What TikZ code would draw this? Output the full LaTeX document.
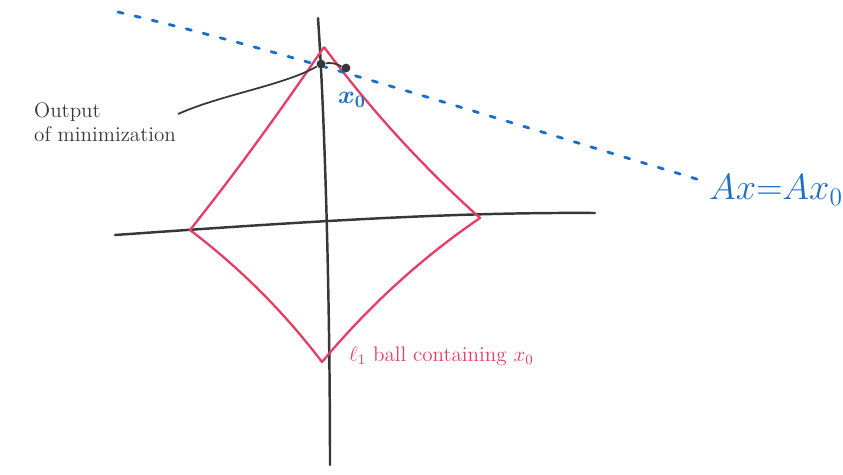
\documentclass[tikz,border=0pt]{standalone}
\usepackage{amsmath, amssymb}
\usetikzlibrary{calc}
\definecolor{ballred}{RGB}{232,60,100}
\definecolor{penblue}{RGB}{25,110,200}
\definecolor{pengray}{RGB}{55,55,55}
\tikzset{
  axis/.style={pengray, line width=1.4pt, line cap=round},
  ball/.style={ballred, line width=1.3pt, line join=round},
  hyper/.style={penblue, line width=1.6pt, dash pattern=on 3pt off 7pt, line cap=round},
  pt/.style={circle, fill=pengray, inner sep=0pt, minimum size=5pt}
}
\begin{document}
\begin{tikzpicture}[x=0.02cm, y=-0.02cm]
  \useasboundingbox (0,0) rectangle (843,474);
  % axes
  \draw[axis] (115,235) .. controls (300,222) and (450,212) .. (595,213);
  \draw[axis] (318,18) .. controls (325,120) and (330,300) .. (330,465);
  % l1 ball
  \coordinate (top) at (324,47);
  \coordinate (right) at (480,218);
  \coordinate (bottom) at (322,362);
  \coordinate (left) at (190,230);
  \draw[ball] (top) .. controls (370,109) and (422,166) .. (right)
    .. controls (420,259) and (368,307) .. (bottom)
    .. controls (284,312) and (240,268) .. (left)
    .. controls (237,171) and (281,110) .. (top);
  % constraint set
  \coordinate (hstart) at (118,12);
  \coordinate (hend) at (700,180);
  \draw[hyper] (hstart) .. controls (300,55) and (500,120) .. (hend);
  \node[pt] (xhat) at (321,64) {};
  \node[pt] (xzero) at (346,68) {};
  \draw[pengray, line width=1pt] (xhat) .. controls (335,62) and (340,66) .. (xzero);
  % labels
  \node[penblue, font=\Large\bfseries] (xlab) at (352,100) {$\boldsymbol{x_0}$};
  \node[penblue, font=\huge] (eq) at (776,190) {$Ax{=}Ax_0$};
  \node[pengray, align=left, font=\large, anchor=west] (out) at (28,122) {Output\\of minimization};
  \draw[pengray, line width=1pt] (out.east) ++(-4,-8) coordinate (tail)
    .. controls (220,95) and (285,85) .. (xhat);
  \node[ballred, font=\large, anchor=west] (ballab) at (343,356) {$\ell_1$ ball containing $x_0$};
\end{tikzpicture}
\end{document}
